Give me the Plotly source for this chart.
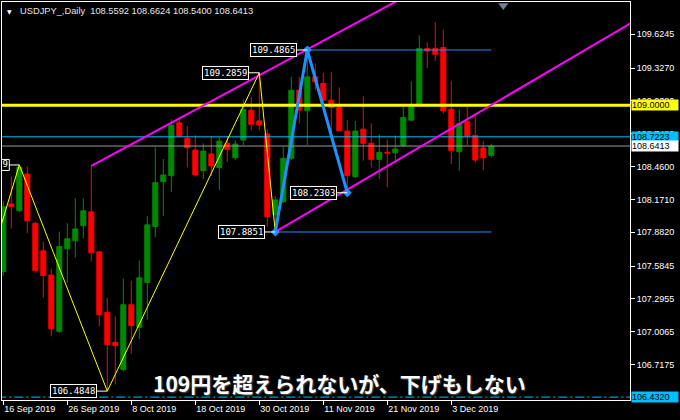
import plotly.graph_objects as go

# ---------------- data ----------------
bars = list(range(62))  # daily bars, 0 = 16 Sep 2019
opens = [107.536, 108.132, 108.073, 108.395, 107.962, 107.719, 107.506, 107.011, 107.737, 107.807,
         107.941, 108.062, 107.710, 107.178, 106.914, 106.675, 107.245, 107.046, 107.441, 107.933,
         108.328, 108.381, 108.846, 108.709, 108.606, 108.424, 108.571, 108.451, 108.665, 108.538,
         108.694, 108.957, 108.863, 108.747, 108.035, 108.152, 108.533, 109.133, 108.951, 109.250,
         109.192, 109.045, 108.981, 108.773, 108.372, 108.790, 108.665, 108.524, 108.586, 108.582,
         108.647, 108.869, 109.008, 109.499, 109.499, 109.508, 108.966, 108.591, 108.855, 108.735,
         108.624, 108.5592]
highs = [108.160, 108.372, 108.4749, 108.460, 107.975, 107.801, 107.560, 107.889, 107.962, 108.182,
         108.182, 108.466, 107.720, 107.304, 107.142, 107.474, 107.456, 107.634, 108.027, 108.630,
         108.527, 108.876, 108.898, 108.817, 108.738, 108.665, 108.729, 108.723, 108.729, 108.694,
         109.051, 109.074, 109.2859, 108.788, 108.200, 108.635, 109.250, 109.250, 109.4865, 109.367,
         109.285, 109.294, 109.157, 108.869, 108.861, 109.080, 108.840, 108.744, 108.700, 108.735,
         108.986, 109.212, 109.616, 109.554, 109.730, 109.665, 109.212, 108.966, 108.986, 108.928,
         108.685, 108.6624]
lows = [107.500, 107.915, 108.060, 107.875, 107.529, 107.309, 106.967, 106.997, 107.436, 107.661,
        107.827, 107.625, 107.055, 106.4848, 106.543, 106.660, 106.815, 106.944, 107.114, 107.840,
        108.027, 108.235, 108.720, 108.454, 108.372, 108.349, 108.378, 108.255, 108.503, 108.518,
        108.650, 108.782, 108.780, 107.933, 107.8851, 108.140, 108.518, 108.840, 108.650, 109.133,
        109.001, 108.723, 108.770, 108.2303, 108.360, 108.512, 108.454, 108.351, 108.279, 108.483,
        108.630, 108.860, 109.000, 109.329, 109.390, 108.928, 108.483, 108.424, 108.650, 108.495,
        108.430, 108.5400]
closes = [108.108, 108.108, 108.455, 107.985, 107.546, 107.503, 107.034, 107.757, 107.825, 107.912,
          108.071, 107.704, 107.157, 106.894, 106.885, 107.245, 107.061, 107.482, 107.948, 108.319,
          108.387, 108.826, 108.729, 108.626, 108.387, 108.597, 108.466, 108.685, 108.612, 108.659,
          108.963, 108.832, 108.826, 108.020, 108.167, 108.533, 109.133, 108.957, 109.250, 109.206,
          109.045, 108.981, 108.775, 108.381, 108.773, 108.665, 108.524, 108.586, 108.580, 108.615,
          108.893, 108.986, 109.499, 109.478, 109.449, 108.951, 108.600, 108.840, 108.729, 108.518,
          108.538, 108.6413]

x_tick_bars = [0, 8, 16, 24, 32, 40, 48, 56]
x_tick_labels = ["16 Sep 2019", "26 Sep 2019", "8 Oct 2019", "18 Oct 2019",
                 "30 Oct 2019", "11 Nov 2019", "21 Nov 2019", "3 Dec 2019"]
y_tick_values = [109.6245, 109.3270, 109.0380, 108.7490, 108.4600, 108.1710,
                 107.8820, 107.5845, 107.2955, 107.0065, 106.7175]

# zigzag (yellow) and wave (blue)
zigzag_bars = [-2, 2, 13, 32, 34]
zigzag_prices = [107.54, 108.4749, 106.4848, 109.2859, 107.8851]
wave_bars = [34, 38, 43]
wave_prices = [107.8851, 109.4865, 108.2303]

# labelled swing points (the first one sits at the left edge and is clipped)
edge_label_bar = 2
edge_label_price = 108.4749
label_bars = [13, 32, 34, 38, 43]
label_prices = [106.4848, 109.2859, 107.8851, 109.4865, 108.2303]

# channel lines (two anchor points each)
upper_bars = [11, 38]
upper_prices = [108.466, 109.492]
lower_bars = [34, 78]
lower_prices = [107.8851, 109.705]

# horizontal levels
level_yellow = 109.0
level_cyan = 108.7223
level_dash = 106.432
bid = closes[-1]
hline_bars = [[38, 61], [34, 61]]
hline_prices = [109.4865, 107.8851]

symbol = "USDJPY_,Daily"
caption = "109円を超えられないが、下げもしない"
shift_marker_bar = 62.5

# ---------------- figure ----------------
X_RANGE = [-0.1625, 78.3375]
Y_RANGE = [106.4067, 109.9087]
PLOT_W, PLOT_H = 628, 398
BAR_PER_PX = (X_RANGE[1] - X_RANGE[0]) / PLOT_W
PRICE_PER_PX = (Y_RANGE[1] - Y_RANGE[0]) / PLOT_H
FULL = [-5, 85]

GREEN = "#008A00"
RED = "#FF0000"
CYAN = "#00BFFF"
BLUE = "#1E90FF"
MAGENTA = "#FF00FF"
YELLOW = "#FFFF00"
LABEL_FONT = dict(family="DejaVu Sans Mono", size=9, color="white")

fig = go.Figure()

fig.add_trace(go.Candlestick(
    x=bars, open=opens, high=highs, low=lows, close=closes,
    increasing=dict(line=dict(color=GREEN, width=1), fillcolor=GREEN),
    decreasing=dict(line=dict(color=RED, width=1), fillcolor=RED),
    whiskerwidth=0, hoverinfo="skip", showlegend=False))

def hline(price, color, width, dash="solid"):
    fig.add_trace(go.Scatter(x=FULL, y=[price, price], mode="lines",
                             line=dict(color=color, width=width, dash=dash),
                             hoverinfo="skip", showlegend=False))

hline(bid, "#9A9A9A", 1)
hline(level_cyan, CYAN, 1)
hline(level_dash, CYAN, 1, "9px,3px,2px,3px")
hline(level_yellow, YELLOW, 3)

for xs, p in zip(hline_bars, hline_prices):
    fig.add_trace(go.Scatter(x=xs, y=[p, p], mode="lines", line=dict(color=BLUE, width=1),
                             hoverinfo="skip", showlegend=False))

def ray(bx, py):
    slope = (py[1] - py[0]) / (bx[1] - bx[0])
    x_end = 82
    return [bx[0], x_end], [py[0], py[0] + (x_end - bx[0]) * slope]

for bx, py in [(upper_bars, upper_prices), (lower_bars, lower_prices)]:
    rx, ry = ray(bx, py)
    fig.add_trace(go.Scatter(x=rx, y=ry, mode="lines", line=dict(color=MAGENTA, width=2),
                             hoverinfo="skip", showlegend=False))

fig.add_trace(go.Scatter(x=zigzag_bars, y=zigzag_prices, mode="lines",
                         line=dict(color=YELLOW, width=1), hoverinfo="skip", showlegend=False))

fig.add_trace(go.Scatter(x=wave_bars, y=wave_prices, mode="lines+markers",
                         line=dict(color=BLUE, width=3),
                         marker=dict(symbol="diamond", size=7, color=BLUE),
                         hoverinfo="skip", showlegend=False))

# clipped label at the left edge: box (shape, clipped), connector and text (clipped trace)
box_right = edge_label_bar - 10 * BAR_PER_PX
box_left = edge_label_bar - 58 * BAR_PER_PX
shapes = [dict(type="rect", xref="x", yref="y", layer="below",
               x0=box_left, x1=box_right,
               y0=edge_label_price - 5.5 * PRICE_PER_PX, y1=edge_label_price + 5.5 * PRICE_PER_PX,
               line=dict(color="white", width=1), fillcolor="black")]
fig.add_trace(go.Scatter(x=[box_right, edge_label_bar], y=[edge_label_price] * 2, mode="lines",
                         line=dict(color="white", width=1), hoverinfo="skip", showlegend=False))
fig.add_trace(go.Scatter(x=[box_right - 1.5 * BAR_PER_PX], y=[edge_label_price], mode="text",
                         text=[f"{edge_label_price:.4f}"], textposition="middle left",
                         textfont=LABEL_FONT, hoverinfo="skip", showlegend=False))

fig.add_trace(go.Scatter(x=[shift_marker_bar], y=[Y_RANGE[1] - 0.03], mode="markers",
                         marker=dict(symbol="triangle-down", size=9, color="#708090"),
                         cliponaxis=False, hoverinfo="skip", showlegend=False))

annotations = []
for bx, p in zip(label_bars, label_prices):
    annotations.append(dict(
        x=bx, y=p, xref="x", yref="y", text=f"{p:.4f}",
        showarrow=True, arrowhead=0, arrowwidth=1, arrowcolor="white",
        ax=-34, ay=0, standoff=0, bgcolor="black", bordercolor="white",
        borderwidth=1, borderpad=1, height=10, font=LABEL_FONT))

for price, bg in [(level_yellow, YELLOW), (level_cyan, CYAN), (bid, "#FFFFFF"), (level_dash, CYAN)]:
    annotations.append(dict(
        x=1, y=price, xref="paper", yref="y", xanchor="left", yanchor="middle",
        xshift=1, text=f"{price:.4f}", showarrow=False, bgcolor=bg, borderpad=0,
        width=46, height=10, align="left",
        font=dict(family="Liberation Sans, Arial", size=9, color="black")))

annotations.append(dict(
    x=(18.3 - 2) / PLOT_W, y=(400 - 11) / PLOT_H, xref="paper", yref="paper",
    xanchor="left", yanchor="middle", showarrow=False,
    text=f"{symbol}  {opens[-1]:.4f} {highs[-1]:.4f} {lows[-1]:.4f} {closes[-1]:.4f}",
    font=dict(family="Liberation Sans, Arial", size=9.3, color="#E6E6E6")))
annotations.append(dict(
    x=(9 - 2) / PLOT_W, y=(400 - 11) / PLOT_H, xref="paper", yref="paper",
    xanchor="center", yanchor="middle", showarrow=False, text="▼",
    font=dict(family="DejaVu Sans", size=6, color="white")))

annotations.append(dict(
    x=(339.5 - 2) / PLOT_W, y=(400 - 383) / PLOT_H, xref="paper", yref="paper",
    xanchor="center", yanchor="middle", showarrow=False, text=caption,
    font=dict(family="Noto Sans CJK JP", size=21, weight="bold", color="white",
              shadow="1px 1px 2px #555555")))

fig.update_layout(
    width=680, height=420,
    margin=dict(l=2, r=50, t=2, b=20),
    paper_bgcolor="black", plot_bgcolor="black",
    showlegend=False, hovermode=False,
    boxgap=0.375, boxgroupgap=0,
    annotations=annotations, shapes=shapes,
    xaxis=dict(range=X_RANGE, rangeslider=dict(visible=False),
               tickmode="array", tickvals=x_tick_bars, ticktext=x_tick_labels,
               ticks="outside", ticklen=4, tickcolor="white",
               ticklabelposition="outside right",
               tickfont=dict(family="Liberation Sans, Arial", size=9, color="white"),
               showgrid=False, zeroline=False, showline=True, mirror=True,
               linecolor="white", linewidth=1),
    yaxis=dict(range=Y_RANGE, side="right",
               tickmode="array", tickvals=y_tick_values,
               ticktext=[f"{v:.4f}" for v in y_tick_values],
               ticks="outside", ticklen=4, tickcolor="white",
               tickfont=dict(family="Liberation Sans, Arial", size=9, color="white"),
               showgrid=False, zeroline=False, showline=True, mirror=True,
               linecolor="white", linewidth=1),
)

fig.write_html(
    "out.html",
    config={"displayModeBar": False, "staticPlot": True},
    post_script="document.body.style.margin='0';document.body.style.background='black';"
                "document.body.style.overflow='hidden';",
)
